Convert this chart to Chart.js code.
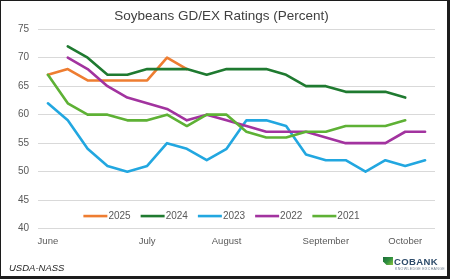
<!DOCTYPE html>
<html>
<head>
<meta charset="utf-8">
<script src="https://cdn.jsdelivr.net/npm/chart.js@4.4.1/dist/chart.umd.min.js"></script>
<style>
  html, body { margin: 0; padding: 0; background: #fff; }
  #wrap { position: relative; width: 450px; height: 279px; overflow: hidden; background: #fff; }
  #frame {
    position: absolute; inset: 0; box-sizing: border-box; pointer-events: none;
    border-style: solid; border-color: #1c1c1c; border-width: 1px 3px 3px 1px;
  }
  #source {
    position: absolute; left: 9px; top: 262px;
    font: italic 9.5px 'Liberation Sans', Arial, sans-serif; color: #262626;
  }
  #logo .mark {
    position: absolute; left: 383px; top: 257px; width: 10px; height: 8px;
    background: linear-gradient(135deg, #1b6b3a 0%, #2f8f3f 50%, #8cc63f 100%);
    clip-path: polygon(0 0, 100% 0, 100% 100%, 35% 100%, 0 55%);
  }
  #logo .name {
    position: absolute; left: 394px; top: 256px; letter-spacing: 0.4px;
    font: bold 9.5px 'Liberation Sans', Arial, sans-serif; color: #2d4b6a;
  }
  #logo .tag {
    position: absolute; left: 395px; top: 267px; letter-spacing: 0.3px; white-space: nowrap;
    font: 3.6px 'Liberation Sans', Arial, sans-serif; color: #6f7f8f;
  }
</style>
</head>
<body>
<div id="wrap">
  <canvas id="chart" width="450" height="279"></canvas>
  <div id="source">USDA-NASS</div>
  <div id="logo"><span class="mark"></span><span class="name">COBANK</span><span class="tag">KNOWLEDGE EXCHANGE</span></div>
  <div id="frame"></div>
</div>
<script>
// weekly crop progress, first week of June through mid October
const weeks = ['June', '', '', '', '', 'July', '', '', '', 'August', '', '', '', '', 'September', '', '', '', 'October', ''];

const y2025 = [67, 68, 66, 66, 66, 66, 70, 68, null, null, null, null, null, null, null, null, null, null, null, null];
const y2024 = [null, 72, 70, 67, 67, 68, 68, 68, 67, 68, 68, 68, 67, 65, 65, 64, 64, 64, 63, null];
const y2023 = [62, 59, 54, 51, 50, 51, 55, 54, 52, 54, 59, 59, 58, 53, 52, 52, 50, 52, 51, 52];
const y2022 = [null, 70, 68, 65, 63, 62, 61, 59, 60, 59, 58, 57, 57, 57, 56, 55, 55, 55, 57, 57];
const y2021 = [67, 62, 60, 60, 59, 59, 60, 58, 60, 60, 57, 56, 56, 57, 57, 58, 58, 58, 59, null];

const yTicks = { min: 40, max: 75, step: 5 };

const fontFamily = "'Liberation Sans', Arial, sans-serif";
const tickColor = '#595959';

function series(label, data, color, order) {
    return {
        label,
        data,
        borderColor: color,
        backgroundColor: color,
        borderWidth: 2.6,
        pointRadius: 0,
        pointHoverRadius: 0,
        tension: 0,
        borderJoinStyle: 'round',
        borderCapStyle: 'round',
        order, // Excel paints later series on top
    };
}

// legend sits inside the plot, just above the 40 line
const overlayLegend = {
    id: 'overlayLegend',
    afterDraw(chart) {
        const { ctx, chartArea, scales } = chart;
        const sets = chart.data.datasets;
        const lineLen = 24;
        const gap = 1;
        const itemGap = 10;

        ctx.save();
        ctx.font = '10px ' + fontFamily;
        const widths = sets.map((ds) => lineLen + gap + ctx.measureText(ds.label).width);
        const total = widths.reduce((a, b) => a + b, 0) + itemGap * (sets.length - 1);
        let x = (chartArea.left + chartArea.right) / 2 - 15 - total / 2;
        const y = scales.y.getPixelForValue(42.2);

        sets.forEach((ds, i) => {
            ctx.strokeStyle = ds.borderColor;
            ctx.lineWidth = 2.6;
            ctx.lineCap = 'butt';
            ctx.beginPath();
            ctx.moveTo(x, y);
            ctx.lineTo(x + lineLen, y);
            ctx.stroke();

            ctx.fillStyle = tickColor;
            ctx.textBaseline = 'middle';
            ctx.textAlign = 'left';
            ctx.fillText(ds.label, x + lineLen + gap, y + 0.5);
            x += widths[i] + itemGap;
        });
        ctx.restore();
    },
};

new Chart(document.getElementById('chart'), {
    type: 'line',
    data: {
        labels: weeks,
        datasets: [
            series('2025', y2025, '#ee7d31', 5),
            series('2024', y2024, '#1f7a30', 4),
            series('2023', y2023, '#22a7e0', 3),
            series('2022', y2022, '#a2339f', 2),
            series('2021', y2021, '#5eb135', 1),
        ],
    },
    options: {
        responsive: false,
        animation: false,
        events: [],
        layout: {
            padding: { left: 8, right: 15, top: 0, bottom: 33 },
        },
        plugins: {
            legend: { display: false },
            tooltip: { enabled: false },
            title: {
                display: true,
                text: 'Soybeans GD/EX Ratings (Percent)',
                color: '#404040',
                font: { family: fontFamily, size: 13.5, weight: 'normal' },
                padding: { top: 8, bottom: 5 },
            },
        },
        scales: {
            x: {
                offset: true,
                grid: { display: false },
                border: { display: false },
                ticks: {
                    autoSkip: false,
                    maxRotation: 0,
                    minRotation: 0,
                    padding: -1,
                    color: tickColor,
                    font: { family: fontFamily, size: 9.5 },
                },
            },
            y: {
                min: yTicks.min,
                max: yTicks.max,
                afterFit(axis) {
                    axis.width = 30;
                },
                border: { display: false },
                grid: { color: '#d9d9d9', lineWidth: 1, drawTicks: false },
                ticks: {
                    stepSize: yTicks.step,
                    padding: 9,
                    color: tickColor,
                    font: { family: fontFamily, size: 10 },
                },
            },
        },
    },
    plugins: [overlayLegend],
});
</script>
</body>
</html>
